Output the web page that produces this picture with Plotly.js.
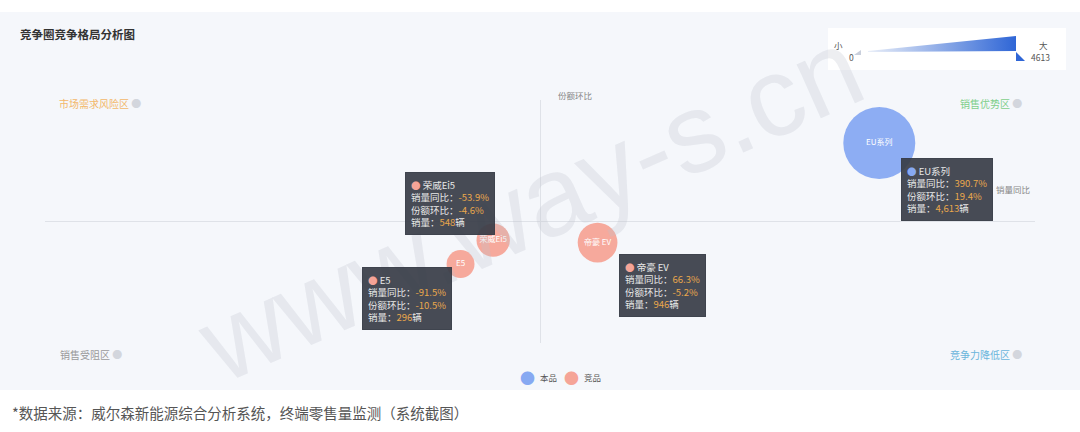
<!DOCTYPE html>
<html>
<head>
<meta charset="utf-8">
<script src="https://cdn.plot.ly/plotly-3.0.1.min.js"></script>
<style>
  html, body { margin: 0; padding: 0; background: #fff; }
  #chart { width: 1080px; height: 432px; }
</style>
</head>
<body>
<div id="chart"></div>
<script>
(function () {
  'use strict';

  /* ── Data ── */
  var names    = ['EU系列', '荣威Ei5', 'E5', '帝豪 EV'];
  var groups   = ['本品', '竞品', '竞品', '竞品'];
  var salesYoY = [390.7, -53.9, -91.5, 66.3];   /* 销量同比 % */
  var shareMoM = [19.4, -4.6, -10.5, -5.2];     /* 份额环比 % */
  var sales    = [4613, 548, 296, 946];         /* 销量 辆 */
  var quadrantLabels = ['市场需求风险区', '销售优势区', '销售受阻区', '竞争力降低区'];
  var sizeLegend = ['小', '0', '大', '4613'];
  var legendNames = ['本品', '竞品'];

  var BLUE   = '#87a9f2';
  var SALMON = '#f5a497';
  var FONT   = '"Noto Sans CJK SC", "Noto Sans", sans-serif';

  /* plot area in page pixels */
  var L = 45, R = 45, T = 100, B = 89, W = 1080, H = 432;
  var PW = W - L - R, PH = H - T - B;
  function px(x) { return (x - L) / PW; }
  function py(y) { return (H - B - y) / PH; }

  var maxSales = Math.max.apply(null, sales);
  function diam(v) { return 13 + 59 * Math.sqrt(v / maxSales); }

  /* tooltip box offsets from each bubble centre (pixels) */
  var tipOffsets = [[22, -15], [-88, 68], [-99, -3], [21, -11]];

  function trace(group, color) {
    var idx = [];
    groups.forEach(function (g, i) { if (g === group) idx.push(i); });
    return {
      type: 'scatter',
      mode: 'markers+text',
      name: group,
      x: idx.map(function (i) { return salesYoY[i]; }),
      y: idx.map(function (i) { return shareMoM[i]; }),
      text: idx.map(function (i) { return names[i]; }),
      textposition: 'middle center',
      textfont: { size: 8, color: '#fff', family: FONT },
      marker: {
        color: color, opacity: 0.95,
        size: idx.map(function (i) { return diam(sales[i]); }),
        sizemode: 'diameter', line: { width: 0 },
      },
      hoverinfo: 'skip',
      showlegend: false,
    };
  }

  /* page-pixel text helper */
  function label(x, y, text, size, color, xanchor) {
    return {
      x: px(x), y: py(y), xref: 'paper', yref: 'paper',
      xanchor: xanchor || 'center', yanchor: 'middle', showarrow: false,
      text: text, font: { size: size, color: color, family: FONT },
    };
  }

  var annotations = [];

  /* watermark */
  annotations.push({
    x: px(530), y: py(205), xref: 'paper', yref: 'paper', showarrow: false,
    xanchor: 'center', yanchor: 'middle',
    text: 'www.way-s.cn', textangle: -24,
    font: { size: 112, color: 'rgba(190,193,203,0.28)', family: 'Liberation Sans, Arial, sans-serif' },
  });

  /* axis names */
  annotations.push(label(556, 95, '份额环比', 8.5, '#888', 'left'));
  annotations.push(label(1032, 189, '销量同比', 8.5, '#888', 'right'));

  /* tooltips */
  names.forEach(function (n, i) {
    var dot = groups[i] === '本品' ? BLUE : SALMON;
    var val = function (s) { return '<span style="color:#e9a84c">' + s + '</span>'; };
    var txt = '<span style="color:' + dot + '">●</span> ' + n + '<br>' +
      '销量同比：' + val(salesYoY[i].toFixed(1) + '%') + '<br>' +
      '份额环比：' + val(shareMoM[i].toFixed(1) + '%') + '<br>' +
      '销量：' + val(sales[i].toLocaleString('en-US')) + '辆';
    annotations.push({
      x: salesYoY[i], y: shareMoM[i], xref: 'x', yref: 'y',
      text: txt, showarrow: false, align: 'left',
      xanchor: 'left', yanchor: 'top',
      xshift: tipOffsets[i][0], yshift: tipOffsets[i][1],
      font: { size: 9.5, color: '#e8e8e8', family: FONT },
      bgcolor: 'rgba(55,60,70,0.92)', bordercolor: 'rgba(55,60,70,0.92)',
      borderpad: 5,
    });
  });

  /* quadrant labels */
  var qPos = [[57, 103, '#f3b76a'], [958, 103, '#7fcf8b'], [58, 354, '#9a9a9a'], [948, 354, '#6ab5dc']];
  quadrantLabels.forEach(function (q, i) {
    annotations.push(label(qPos[i][0], qPos[i][1],
      q + ' <span style="color:#d3d6dd">●</span>', 10, qPos[i][2], 'left'));
  });

  /* title + footnote */
  annotations.push(label(18, 34, '<b>竞争圈竞争格局分析图</b>', 11.5, '#333', 'left'));
  annotations.push(label(10, 412,
    '*数据来源：威尔森新能源综合分析系统，终端零售量监测（系统截图）', 14.5, '#555', 'left'));

  /* size legend texts */
  var sPos = [[838, 45], [851, 57], [1043, 45], [1040, 57]];
  sizeLegend.forEach(function (s, i) {
    annotations.push(label(sPos[i][0], sPos[i][1], s, 8.5, '#555', 'center'));
  });

  /* group legend */
  var lPos = [527, 571];
  var lCol = [BLUE, SALMON];
  legendNames.forEach(function (n, i) {
    annotations.push(label(lPos[i], 377, '●', 15, lCol[i], 'center'));
    annotations.push(label(lPos[i] + 11, 377, n, 8.5, '#555', 'left'));
  });

  var shapes = [
    { type: 'rect', xref: 'paper', yref: 'paper', layer: 'below',
      x0: px(0), x1: px(1080), y0: py(12), y1: py(390),
      fillcolor: '#f5f7fb', line: { width: 0 } },
    { type: 'rect', xref: 'paper', yref: 'paper', layer: 'below',
      x0: px(828), x1: px(1066), y0: py(28), y1: py(70),
      fillcolor: '#ffffff', line: { width: 0 } },
  ];

  var grad = 'data:image/svg+xml;utf8,' + encodeURIComponent(
    '<svg xmlns="http://www.w3.org/2000/svg" width="180" height="28" viewBox="0 0 180 28">' +
    '<defs><linearGradient id="g" x1="0" x2="1" y1="0" y2="0">' +
    '<stop offset="0" stop-color="#e9eef8"/><stop offset="1" stop-color="#2f66d6"/></linearGradient></defs>' +
    '<path d="M2,19 L9,14 L9,19 Z" fill="#c9cfdc"/>' +
    '<polygon points="16,15 164,0 164,15 16,16" fill="url(#g)"/>' +
    '<polygon points="164,16 164,25 173,25" fill="#2f66d6"/>' +
    '</svg>');

  var layout = {
    width: W, height: H,
    margin: { l: L, r: R, t: T, b: B },
    paper_bgcolor: '#ffffff',
    plot_bgcolor: 'rgba(0,0,0,0)',
    font: { family: FONT },
    xaxis: {
      range: [-570, 570], showgrid: false, showticklabels: false,
      zeroline: true, zerolinecolor: '#dfe2e8', zerolinewidth: 1,
      showline: false, fixedrange: true,
    },
    yaxis: {
      range: [-30, 30], showgrid: false, showticklabels: false,
      zeroline: true, zerolinecolor: '#dfe2e8', zerolinewidth: 1,
      showline: false, fixedrange: true,
    },
    showlegend: false,
    shapes: shapes,
    images: [{
      source: grad, xref: 'paper', yref: 'paper',
      x: px(852), y: py(36), sizex: 180 / PW, sizey: 28 / PH,
      xanchor: 'left', yanchor: 'top', sizing: 'stretch', layer: 'above',
    }],
    annotations: annotations,
  };

  Plotly.newPlot('chart', [trace('本品', BLUE), trace('竞品', SALMON)], layout, {
    displayModeBar: false, staticPlot: true,
  });
})();
</script>
</body>
</html>
